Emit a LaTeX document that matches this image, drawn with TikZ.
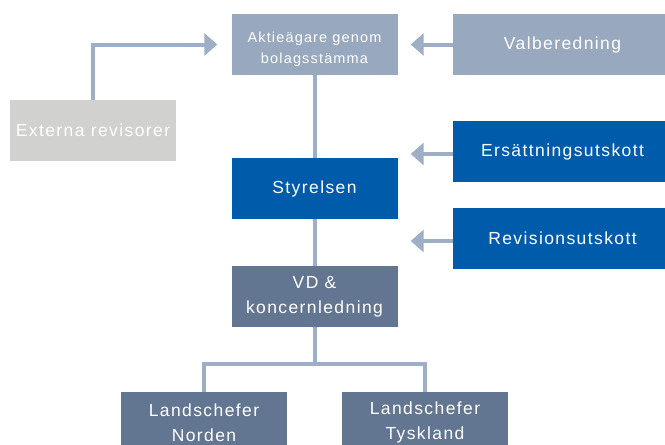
\documentclass[tikz,border=0pt]{standalone}
\usepackage{fontspec}
\setmainfont[LetterSpace=8]{Liberation Sans}
\usepackage{tikz}
\usetikzlibrary{arrows.meta}
\definecolor{ownercolorc}{HTML}{97A8BF}
\definecolor{auditorcolorc}{HTML}{D1D1D0}
\definecolor{boardcolorc}{HTML}{005BAA}
\definecolor{mgmtcolorc}{HTML}{627591}
\definecolor{linecolorc}{HTML}{9DAEC5}
\colorlet{ownercolor}{ownercolorc}
\colorlet{auditorcolor}{auditorcolorc}
\colorlet{boardcolor}{boardcolorc}
\colorlet{mgmtcolor}{mgmtcolorc}
\colorlet{linecolor}{linecolorc}
\tikzstyle{orgbox} = [
    rectangle,
    text=white,
    minimum height=61pt,
    inner sep=0pt,
    align=center,
    font=\fontsize{17.5}{25}\selectfont
    ]
\tikzstyle{narrowbox} = [orgbox, minimum width=166pt]
\tikzstyle{widebox} = [orgbox, minimum width=219pt]
\tikzstyle{link} = [draw=linecolor, line width=4pt]
\tikzstyle{arrowlink} = [
    link,
    -{Triangle[length=13pt,width=22pt]},
    shorten >=13pt
    ]

\begin{document}
\begin{tikzpicture}[x=1pt,y=-1pt]
\useasboundingbox (0,0) rectangle (665,445);
\clip (0,0) rectangle (665,445);
% boxes
\node[narrowbox, fill=ownercolor, font=\fontsize{14.5}{21}\selectfont,
    text height=40.6pt, text depth=3pt] (aktie) at (314.5,44.5) {Aktieägare genom\\bolagsstämma};
\node[widebox, fill=ownercolor] (valb) at (562.5,44.5) {Valberedning};
\node[narrowbox, fill=auditorcolor] (ext) at (93,130.5) {Externa revisorer};
\node[widebox, fill=boardcolor] (ers) at (562.5,151.5) {Ersättningsutskott};
\node[narrowbox, fill=boardcolor] (styr) at (314.5,188.5) {Styrelsen};
\node[widebox, fill=boardcolor] (revu) at (562.5,238.5) {Revisionsutskott};
\node[narrowbox, fill=mgmtcolor] (vd) at (314.5,296.5) {VD \&\\koncernledning};
\node[narrowbox, fill=mgmtcolor] (norden) at (204,422.5) {Landschefer\\Norden};
\node[narrowbox, fill=mgmtcolor] (tysk) at (425,422.5) {Landschefer\\Tyskland};
\coordinate (fork) at (314.5,364);
% lines
\draw[arrowlink, shorten >=14pt] (ext.north) |- (aktie.west);
\draw[arrowlink] (valb.west) -- (aktie.east);
\draw[arrowlink] ([yshift=-2.5pt]ers.west) -- ([yshift=-2.5pt]ers.west -| styr.east);
\draw[arrowlink] ([yshift=-2.5pt]revu.west) -- ([yshift=-2.5pt]revu.west -| styr.east);
\draw[link] (aktie.south) -- (styr.north);
\draw[link] (styr.south) -- (vd.north);
\draw[link] (vd.south) -- (fork);
\draw[link] (norden.north) |- (fork) -| (tysk.north);
\end{tikzpicture}
\end{document}
